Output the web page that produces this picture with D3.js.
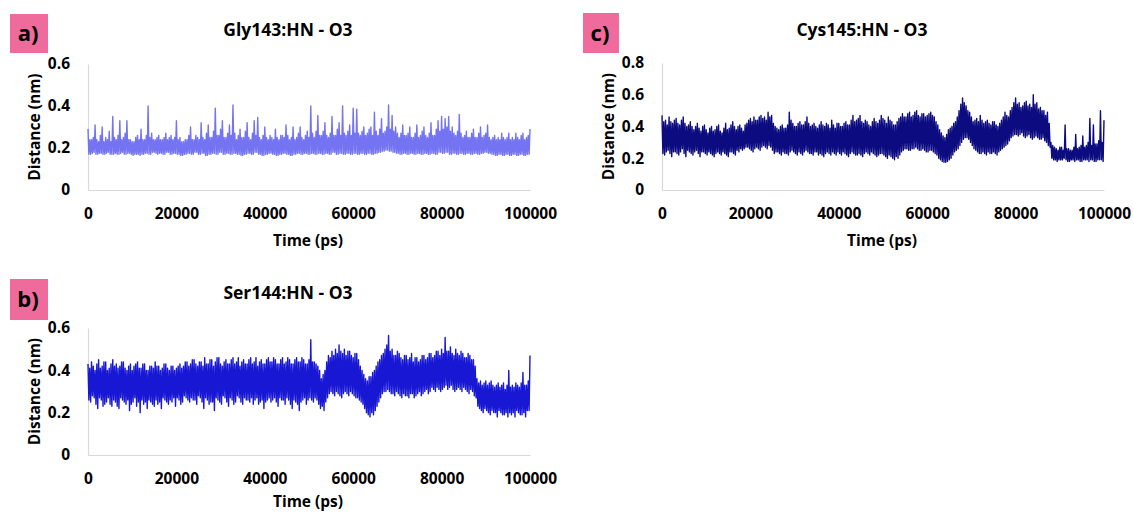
<!DOCTYPE html>
<html>
<head>
<meta charset="utf-8">
<script src="https://cdn.jsdelivr.net/npm/d3@7"></script>
<style>
  html, body { margin: 0; padding: 0; background: #ffffff; }
  svg { display: block; }
  text { font-family: "Open Sans", "DejaVu Sans", sans-serif; font-weight: 700; fill: #000; }
</style>
</head>
<body>
<svg id="chart" width="1134" height="513"></svg>
<script>
// ---------- data ----------
// sampling grid: one value every 200 ps from 0 to 100000 ps
const times = d3.range(0, 100001, 200);

const xTickValues = [0, 20000, 40000, 60000, 80000, 100000];
const yTicksShort = [0, 0.2, 0.4, 0.6];
const yTicksTall = [0, 0.2, 0.4, 0.6, 0.8];

const panelLabels = ["a)", "b)", "c)"];
const panelTitles = ["Gly143:HN - O3", "Ser144:HN - O3", "Cys145:HN - O3"];

// a) Gly143:HN - O3 distance (nm)
const gly143 = [
  0.29,0.17,0.24,0.17,0.24,0.175,0.25,0.18,0.31,0.17,0.24,0.17,0.23,0.175,0.26,0.175,0.30,0.17,0.23,0.17,
  0.25,0.175,0.24,0.18,0.28,0.17,0.23,0.17,0.35,0.17,0.25,0.175,0.24,0.17,0.26,0.17,0.33,0.175,0.24,0.18,
  0.25,0.17,0.27,0.17,0.33,0.175,0.24,0.175,0.24,0.17,0.23,0.165,0.23,0.17,0.25,0.17,0.26,0.17,0.24,0.165,
  0.29,0.17,0.24,0.17,0.24,0.175,0.26,0.175,0.40,0.17,0.25,0.17,0.27,0.18,0.24,0.18,0.24,0.175,0.25,0.17,
  0.26,0.175,0.24,0.175,0.24,0.17,0.25,0.17,0.27,0.18,0.24,0.18,0.25,0.17,0.26,0.17,0.24,0.175,0.25,0.175,
  0.33,0.17,0.24,0.17,0.25,0.165,0.23,0.165,0.23,0.17,0.24,0.17,0.24,0.175,0.26,0.175,0.30,0.17,0.24,0.17,
  0.24,0.18,0.26,0.18,0.25,0.17,0.24,0.17,0.32,0.175,0.25,0.175,0.24,0.165,0.27,0.165,0.31,0.17,0.25,0.17,
  0.25,0.175,0.28,0.175,0.39,0.17,0.26,0.17,0.26,0.18,0.29,0.18,0.33,0.17,0.25,0.17,0.25,0.175,0.27,0.175,
  0.31,0.17,0.26,0.17,0.405,0.175,0.27,0.175,0.24,0.17,0.26,0.17,0.29,0.165,0.25,0.165,0.25,0.17,0.28,0.17,
  0.32,0.175,0.25,0.175,0.24,0.17,0.27,0.17,0.33,0.18,0.26,0.18,0.345,0.17,0.25,0.17,0.24,0.165,0.26,0.165,
  0.30,0.17,0.25,0.17,0.24,0.175,0.26,0.175,0.25,0.17,0.24,0.17,0.29,0.165,0.25,0.165,0.24,0.17,0.26,0.17,
  0.26,0.175,0.25,0.175,0.31,0.17,0.26,0.17,0.24,0.165,0.25,0.165,0.30,0.17,0.24,0.17,0.25,0.175,0.27,0.175,
  0.30,0.17,0.25,0.17,0.24,0.175,0.26,0.175,0.28,0.17,0.25,0.17,0.40,0.175,0.27,0.175,0.25,0.17,0.28,0.17,
  0.355,0.175,0.26,0.175,0.26,0.17,0.28,0.17,0.32,0.175,0.26,0.175,0.25,0.17,0.27,0.17,0.35,0.18,0.26,0.18,
  0.26,0.17,0.29,0.17,0.32,0.175,0.26,0.175,0.40,0.17,0.27,0.17,0.26,0.175,0.28,0.175,0.31,0.17,0.26,0.17,
  0.39,0.175,0.27,0.175,0.385,0.17,0.27,0.17,0.26,0.175,0.28,0.175,0.30,0.17,0.26,0.17,0.27,0.175,0.29,0.175,
  0.30,0.17,0.26,0.17,0.37,0.175,0.28,0.175,0.26,0.18,0.29,0.18,0.34,0.185,0.27,0.185,0.28,0.19,0.30,0.19,
  0.405,0.185,0.29,0.185,0.355,0.18,0.28,0.18,0.30,0.175,0.27,0.175,0.25,0.17,0.27,0.17,0.31,0.175,0.26,0.175,
  0.26,0.17,0.27,0.17,0.30,0.175,0.25,0.175,0.25,0.17,0.27,0.17,0.31,0.175,0.25,0.175,0.26,0.17,0.28,0.17,
  0.30,0.175,0.26,0.175,0.25,0.17,0.27,0.17,0.32,0.175,0.26,0.175,0.26,0.17,0.29,0.17,0.33,0.18,0.28,0.18,
  0.35,0.175,0.29,0.175,0.34,0.18,0.30,0.18,0.35,0.17,0.28,0.17,0.30,0.175,0.27,0.175,0.26,0.17,0.28,0.17,
  0.36,0.175,0.27,0.175,0.25,0.17,0.26,0.17,0.28,0.175,0.25,0.175,0.25,0.17,0.27,0.17,0.29,0.175,0.25,0.175,
  0.25,0.17,0.27,0.17,0.30,0.175,0.25,0.175,0.26,0.18,0.27,0.18,0.31,0.175,0.25,0.175,0.24,0.17,0.25,0.17,
  0.26,0.165,0.24,0.165,0.25,0.17,0.24,0.17,0.27,0.165,0.25,0.165,0.24,0.17,0.25,0.17,0.27,0.165,0.24,0.165,
  0.25,0.17,0.24,0.17,0.27,0.165,0.25,0.165,0.24,0.17,0.26,0.17,0.27,0.165,0.24,0.165,0.25,0.17,0.26,0.17,
  0.29
];

// b) Ser144:HN - O3 distance (nm)
const ser144 = [
  0.43,0.26,0.41,0.25,0.44,0.28,0.42,0.27,0.40,0.24,0.43,0.22,0.45,0.27,0.41,0.26,0.42,0.23,0.44,0.24,
  0.44,0.25,0.40,0.27,0.41,0.24,0.43,0.23,0.45,0.26,0.42,0.25,0.43,0.23,0.41,0.22,0.42,0.27,0.44,0.26,
  0.44,0.25,0.41,0.24,0.40,0.26,0.42,0.21,0.43,0.24,0.40,0.25,0.42,0.27,0.43,0.23,0.44,0.25,0.41,0.20,
  0.41,0.26,0.43,0.24,0.43,0.25,0.40,0.22,0.40,0.26,0.42,0.25,0.42,0.24,0.41,0.23,0.44,0.26,0.42,0.24,
  0.42,0.25,0.40,0.22,0.41,0.27,0.43,0.26,0.43,0.25,0.41,0.24,0.40,0.26,0.42,0.25,0.42,0.27,0.40,0.23,
  0.41,0.27,0.42,0.26,0.43,0.24,0.41,0.25,0.42,0.28,0.44,0.27,0.44,0.26,0.42,0.25,0.43,0.27,0.45,0.26,
  0.45,0.26,0.43,0.24,0.42,0.28,0.44,0.27,0.44,0.25,0.42,0.22,0.46,0.27,0.43,0.26,0.43,0.24,0.45,0.25,
  0.45,0.25,0.42,0.21,0.44,0.27,0.46,0.26,0.46,0.25,0.43,0.24,0.42,0.28,0.44,0.27,0.45,0.25,0.43,0.23,
  0.43,0.27,0.45,0.26,0.46,0.24,0.43,0.25,0.44,0.28,0.46,0.27,0.42,0.25,0.44,0.24,0.45,0.27,0.43,0.26,
  0.43,0.26,0.45,0.25,0.46,0.27,0.43,0.24,0.44,0.26,0.46,0.27,0.42,0.24,0.44,0.25,0.45,0.26,0.43,0.22,
  0.43,0.25,0.45,0.26,0.46,0.27,0.44,0.25,0.44,0.26,0.46,0.27,0.45,0.25,0.43,0.23,0.43,0.27,0.45,0.26,
  0.46,0.26,0.43,0.24,0.44,0.27,0.46,0.26,0.45,0.24,0.43,0.22,0.43,0.26,0.45,0.25,0.46,0.24,0.44,0.21,
  0.44,0.25,0.46,0.26,0.45,0.27,0.43,0.24,0.43,0.26,0.45,0.27,0.545,0.26,0.44,0.25,0.44,0.27,0.43,0.26,
  0.42,0.24,0.40,0.22,0.36,0.23,0.38,0.21,0.40,0.25,0.44,0.27,0.47,0.29,0.46,0.30,0.49,0.29,0.47,0.28,
  0.50,0.30,0.48,0.29,0.52,0.28,0.49,0.27,0.48,0.29,0.50,0.30,0.47,0.29,0.49,0.28,0.49,0.30,0.47,0.29,
  0.46,0.28,0.48,0.27,0.48,0.27,0.45,0.26,0.42,0.25,0.40,0.24,0.38,0.22,0.36,0.20,0.35,0.19,0.37,0.18,
  0.37,0.20,0.39,0.19,0.40,0.21,0.42,0.23,0.44,0.25,0.45,0.27,0.47,0.29,0.48,0.30,0.50,0.30,0.52,0.31,
  0.565,0.30,0.49,0.29,0.50,0.29,0.47,0.28,0.47,0.30,0.49,0.29,0.48,0.28,0.46,0.27,0.45,0.29,0.47,0.28,
  0.47,0.28,0.45,0.27,0.46,0.29,0.48,0.29,0.44,0.27,0.46,0.28,0.46,0.29,0.44,0.30,0.45,0.28,0.47,0.29,
  0.47,0.30,0.45,0.31,0.46,0.29,0.48,0.30,0.48,0.32,0.46,0.31,0.47,0.30,0.49,0.32,0.49,0.31,0.47,0.30,
  0.50,0.31,0.48,0.32,0.555,0.33,0.49,0.31,0.49,0.32,0.51,0.33,0.48,0.31,0.47,0.30,0.50,0.31,0.48,0.32,
  0.47,0.31,0.49,0.30,0.48,0.32,0.46,0.31,0.46,0.30,0.48,0.29,0.47,0.31,0.45,0.30,0.45,0.28,0.42,0.27,
  0.36,0.23,0.34,0.22,0.35,0.21,0.33,0.20,0.34,0.22,0.35,0.21,0.33,0.20,0.34,0.19,0.35,0.21,0.33,0.20,
  0.32,0.20,0.33,0.18,0.34,0.21,0.32,0.20,0.33,0.19,0.34,0.19,0.31,0.20,0.33,0.18,0.40,0.20,0.32,0.19,
  0.33,0.20,0.32,0.18,0.34,0.21,0.33,0.20,0.32,0.19,0.34,0.19,0.39,0.20,0.33,0.18,0.33,0.21,0.35,0.21,
  0.47
];

// c) Cys145:HN - O3 distance (nm)
const cys145 = [
  0.47,0.23,0.43,0.22,0.44,0.24,0.41,0.25,0.46,0.23,0.43,0.21,0.42,0.24,0.44,0.24,0.45,0.23,0.42,0.22,
  0.41,0.24,0.44,0.26,0.46,0.23,0.42,0.21,0.40,0.25,0.41,0.24,0.43,0.23,0.40,0.22,0.38,0.24,0.40,0.25,
  0.42,0.23,0.39,0.21,0.37,0.24,0.40,0.24,0.41,0.23,0.38,0.22,0.36,0.24,0.39,0.23,0.40,0.22,0.37,0.21,
  0.38,0.23,0.40,0.24,0.41,0.23,0.37,0.22,0.36,0.24,0.39,0.23,0.42,0.22,0.38,0.21,0.39,0.24,0.41,0.24,
  0.43,0.23,0.40,0.22,0.38,0.25,0.40,0.24,0.41,0.26,0.39,0.25,0.37,0.26,0.41,0.27,0.42,0.27,0.44,0.26,
  0.45,0.25,0.43,0.24,0.46,0.26,0.44,0.27,0.44,0.26,0.46,0.25,0.47,0.27,0.45,0.28,0.46,0.27,0.44,0.26,
  0.49,0.28,0.46,0.27,0.47,0.25,0.42,0.23,0.40,0.24,0.39,0.24,0.38,0.23,0.40,0.22,0.41,0.24,0.39,0.23,
  0.39,0.23,0.41,0.22,0.49,0.24,0.44,0.25,0.42,0.24,0.40,0.23,0.40,0.22,0.42,0.24,0.43,0.23,0.41,0.22,
  0.41,0.24,0.43,0.25,0.46,0.24,0.42,0.23,0.40,0.23,0.41,0.22,0.42,0.24,0.40,0.24,0.39,0.22,0.41,0.23,
  0.43,0.22,0.41,0.21,0.40,0.23,0.42,0.24,0.41,0.23,0.39,0.22,0.44,0.24,0.41,0.23,0.39,0.22,0.42,0.24,
  0.42,0.23,0.40,0.22,0.40,0.24,0.42,0.23,0.43,0.22,0.41,0.21,0.41,0.23,0.44,0.24,0.47,0.23,0.43,0.22,
  0.44,0.22,0.45,0.23,0.47,0.22,0.43,0.21,0.42,0.23,0.44,0.24,0.43,0.23,0.41,0.22,0.40,0.24,0.43,0.23,
  0.45,0.22,0.43,0.21,0.42,0.22,0.44,0.23,0.47,0.23,0.45,0.22,0.44,0.21,0.42,0.20,0.46,0.22,0.44,0.21,
  0.43,0.20,0.41,0.19,0.41,0.21,0.43,0.20,0.45,0.22,0.46,0.24,0.48,0.25,0.46,0.26,0.46,0.26,0.48,0.25,
  0.49,0.25,0.46,0.26,0.47,0.26,0.49,0.27,0.50,0.26,0.47,0.25,0.46,0.25,0.48,0.26,0.48,0.25,0.46,0.24,
  0.47,0.24,0.48,0.25,0.49,0.25,0.47,0.24,0.46,0.23,0.43,0.22,0.41,0.20,0.38,0.19,0.36,0.18,0.34,0.175,
  0.33,0.175,0.35,0.18,0.38,0.19,0.39,0.20,0.40,0.22,0.42,0.24,0.43,0.25,0.46,0.26,0.50,0.28,0.54,0.30,
  0.58,0.32,0.55,0.33,0.53,0.33,0.50,0.32,0.49,0.30,0.46,0.28,0.43,0.26,0.44,0.25,0.45,0.24,0.43,0.23,
  0.47,0.23,0.44,0.24,0.42,0.23,0.43,0.22,0.44,0.24,0.42,0.23,0.41,0.23,0.43,0.24,0.43,0.23,0.41,0.22,
  0.40,0.24,0.42,0.25,0.44,0.26,0.46,0.27,0.49,0.28,0.47,0.29,0.46,0.31,0.50,0.33,0.52,0.34,0.55,0.35,
  0.58,0.35,0.54,0.34,0.55,0.35,0.52,0.36,0.53,0.34,0.55,0.33,0.56,0.34,0.53,0.35,0.54,0.33,0.52,0.32,
  0.60,0.33,0.54,0.34,0.55,0.33,0.51,0.32,0.52,0.32,0.50,0.33,0.50,0.31,0.47,0.30,0.49,0.28,0.42,0.27,
  0.30,0.20,0.28,0.19,0.27,0.19,0.26,0.18,0.25,0.19,0.27,0.19,0.27,0.19,0.25,0.20,0.41,0.19,0.26,0.18,
  0.26,0.18,0.25,0.19,0.25,0.19,0.27,0.18,0.35,0.19,0.26,0.19,0.27,0.18,0.28,0.18,0.34,0.19,0.27,0.19,
  0.28,0.19,0.30,0.18,0.45,0.19,0.28,0.19,0.41,0.18,0.29,0.18,0.29,0.19,0.31,0.19,0.50,0.19,0.30,0.18,
  0.44
];

// ---------- drawing ----------
const svg = d3.select("#chart");
svg.append("rect").attr("width", 1134).attr("height", 513).attr("fill", "#ffffff");

const panels = [
  { label: panelLabels[0], title: panelTitles[0], values: gly143, color: "#7474f2",
    xr: [88, 530], yr: [190, 64], ymax: 0.6, yt: yTicksShort,
    box: [10, 14, 38, 39], titleX: 288, titleY: 30, xTitleY: 241 },
  { label: panelLabels[1], title: panelTitles[1], values: ser144, color: "#1818d4",
    xr: [88, 530], yr: [455, 328], ymax: 0.6, yt: yTicksShort,
    box: [10, 279, 38, 41], titleX: 288, titleY: 293, xTitleY: 502 },
  { label: panelLabels[2], title: panelTitles[2], values: cys145, color: "#0c0c80",
    xr: [662, 1104], yr: [190, 63], ymax: 0.8, yt: yTicksTall,
    box: [583, 13, 36, 40], titleX: 862, titleY: 30, xTitleY: 241 }
];

const fmtY = d => d === 0 ? "0" : d3.format(".1f")(d);

panels.forEach(p => {
  const g = svg.append("g");
  const x = d3.scaleLinear().domain([0, 100000]).range(p.xr);
  const y = d3.scaleLinear().domain([0, p.ymax]).range(p.yr);

  // pink panel label
  g.append("rect")
    .attr("x", p.box[0]).attr("y", p.box[1])
    .attr("width", p.box[2]).attr("height", p.box[3])
    .attr("fill", "#ee6b9b");
  g.append("text")
    .attr("x", p.box[0] + p.box[2] / 2 - 1)
    .attr("y", p.box[1] + p.box[3] / 2)
    .attr("dy", "0.35em")
    .attr("text-anchor", "middle")
    .style("font-size", "22px")
    .text(p.label);

  // title
  g.append("text")
    .attr("x", p.titleX).attr("y", p.titleY)
    .attr("dy", "0.35em")
    .attr("text-anchor", "middle")
    .style("font-size", "17.5px")
    .text(p.title);

  // x axis
  const xAxis = d3.axisBottom(x)
    .tickValues(xTickValues)
    .tickFormat(d3.format("d"))
    .tickSize(0)
    .tickSizeOuter(0)
    .tickPadding(18);
  const gx = g.append("g")
    .attr("transform", `translate(0,${p.yr[0]})`)
    .call(xAxis);
  gx.select(".domain").attr("stroke", "#d9d9d9").attr("stroke-width", 1.2);
  gx.selectAll("text")
    .style("font-family", '"Open Sans", sans-serif')
    .style("font-weight", "700")
    .style("font-size", "15.5px")
    .attr("fill", "#000");

  // y axis
  const yAxis = d3.axisLeft(y)
    .tickValues(p.yt)
    .tickFormat(fmtY)
    .tickSize(0)
    .tickSizeOuter(0)
    .tickPadding(18);
  const gy = g.append("g")
    .attr("transform", `translate(${p.xr[0]},0)`)
    .call(yAxis);
  gy.select(".domain").attr("stroke", "#d9d9d9").attr("stroke-width", 1.2);
  gy.selectAll("text")
    .style("font-family", '"Open Sans", sans-serif')
    .style("font-weight", "700")
    .style("font-size", "15.5px")
    .attr("fill", "#000");

  // axis titles
  g.append("text")
    .attr("x", (p.xr[0] + p.xr[1]) / 2 - 1)
    .attr("y", p.xTitleY)
    .attr("dy", "0.35em")
    .attr("text-anchor", "middle")
    .style("font-size", "15.5px")
    .text("Time (ps)");
  g.append("text")
    .attr("transform", `translate(${p.xr[0] - 53},${(p.yr[0] + p.yr[1]) / 2}) rotate(-90)`)
    .attr("dy", "0.35em")
    .attr("text-anchor", "middle")
    .style("font-size", "15.5px")
    .text("Distance (nm)");

  // data line
  const line = d3.line()
    .x((d, i) => x(times[i]))
    .y(d => y(d));
  g.append("path")
    .datum(p.values)
    .attr("d", line)
    .attr("fill", "none")
    .attr("stroke", p.color)
    .attr("stroke-width", 1.4)
    .attr("stroke-linejoin", "round");
});
</script>
</body>
</html>
